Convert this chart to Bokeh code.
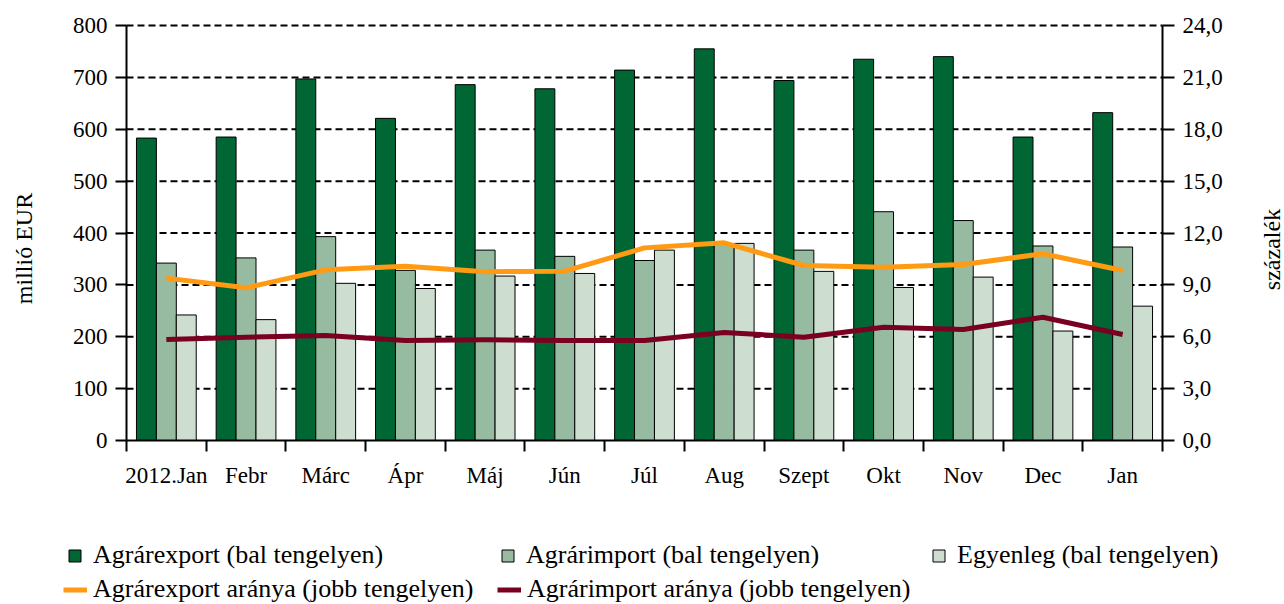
import math
from bokeh.plotting import figure
from bokeh.models import (Range1d, LinearAxis, FixedTicker, Legend, LegendItem,
                          ColumnDataSource, Label)
from bokeh.embed import file_html
from bokeh.resources import INLINE

months = ["2012.Jan", "Febr", "Márc", "Ápr", "Máj", "Jún", "Júl", "Aug",
          "Szept", "Okt", "Nov", "Dec", "Jan"]
export_vals = [583, 585, 697, 621, 686, 678, 714, 755, 694, 735, 740, 585, 632]
import_vals = [342, 352, 393, 328, 367, 355, 347, 378, 367, 441, 424, 375, 373]
balance_vals = [242, 233, 303, 293, 317, 322, 367, 380, 326, 295, 315, 211, 259]
export_share = [9.39, 8.83, 9.87, 10.08, 9.76, 9.79, 11.14, 11.43, 10.12, 10.02, 10.18, 10.80, 9.83]
import_share = [5.84, 5.97, 6.07, 5.78, 5.82, 5.78, 5.78, 6.25, 5.97, 6.55, 6.42, 7.13, 6.13]
left_ticks = [0, 100, 200, 300, 400, 500, 600, 700, 800]
right_ticks = [0, 3, 6, 9, 12, 15, 18, 21, 24]

FONT = "Liberation Serif"
C_EXP = "#006633"
C_IMP = "#97BBA1"
C_BAL = "#CDDDCF"
C_ORANGE = "#FF9A12"
C_RED = "#7A0022"

# canvas and plot-area geometry (pixels)
W, H = 1284, 604
PL, PR, PT, PB = 126, 1162, 25, 440

n = len(months)
YMAX = left_ticks[-1]
RMAX = right_ticks[-1]
xs = (PR - PL) / n
ys = (PB - PT) / YMAX
rs = (PB - PT) / RMAX

centers = [i + 0.5 for i in range(n)]
bw = 0.25

src = ColumnDataSource(dict(
    xc=centers,
    xe=[c - bw for c in centers],
    xb=[c + bw for c in centers],
    exp=export_vals, imp=import_vals, bal=balance_vals,
    es=export_share, ims=import_share,
))

grid_src = ColumnDataSource(dict(
    y=left_ticks[1:],
    x0=[0] * (len(left_ticks) - 1),
    x1=[n] * (len(left_ticks) - 1),
))

p = figure(width=W, height=H, output_backend="svg", toolbar_location=None,
           x_range=Range1d(-PL / xs, n + (W - PR) / xs),
           y_range=Range1d(-(H - PB) / ys, YMAX + PT / ys),
           x_axis_location=None, y_axis_location=None,
           min_border_left=0, min_border_right=0, min_border_top=0,
           min_border_bottom=0)
p.outline_line_color = None
p.extra_y_ranges = {"right": Range1d(-(H - PB) / rs, RMAX + PT / rs)}
p.xgrid.visible = False
p.ygrid.visible = False

# dashed horizontal grid lines between the two axes
p.segment(x0="x0", x1="x1", y0="y", y1="y", source=grid_src,
          line_color="black", line_dash="7 4", line_width=2)


def style_axis(ax, tick_out):
    ax.major_tick_out = tick_out
    ax.major_tick_in = 0
    ax.major_tick_line_width = 2
    ax.major_tick_line_color = "black"
    ax.axis_line_width = 2
    ax.axis_line_color = "black"
    ax.major_label_text_font = FONT
    ax.major_label_text_font_size = "23px"
    ax.major_label_text_color = "black"


# x axis
xa = LinearAxis(fixed_location=0, bounds=(0, n),
                ticker=FixedTicker(ticks=centers, minor_ticks=list(range(n + 1))))
style_axis(xa, 0)
xa.major_label_overrides = {c: m for c, m in zip(centers, months)}
xa.minor_tick_out = 11
xa.minor_tick_in = 0
xa.minor_tick_line_color = "black"
xa.minor_tick_line_width = 2
xa.major_label_standoff = 11
p.add_layout(xa, "below")

# left axis
ya = LinearAxis(fixed_location=0, bounds=(0, YMAX),
                ticker=FixedTicker(ticks=left_ticks, minor_ticks=[]))
style_axis(ya, 11)
ya.major_label_standoff = 8
p.add_layout(ya, "left")

# right axis
ra = LinearAxis(y_range_name="right", fixed_location=n, bounds=(0, RMAX),
                ticker=FixedTicker(ticks=right_ticks, minor_ticks=[]))
style_axis(ra, 12)
ra.major_label_overrides = {t: f"{t},0" for t in right_ticks}
ra.major_label_standoff = 8
p.add_layout(ra, "right")

# axis titles
for txt, sx, sy in [("millió EUR", 23, H - 248), ("százalék", 1271, H - 249)]:
    p.add_layout(Label(x=sx, y=sy, x_units="screen", y_units="screen",
                       text=txt, angle=math.pi / 2, text_align="center",
                       text_baseline="middle", text_font=FONT,
                       text_font_size="24px", text_color="black"))

# bars
r_exp = p.vbar(x="xe", width=bw, top="exp", bottom=0, source=src,
               fill_color=C_EXP, line_color="black", line_width=1)
r_imp = p.vbar(x="xc", width=bw, top="imp", bottom=0, source=src,
               fill_color=C_IMP, line_color="black", line_width=1)
r_bal = p.vbar(x="xb", width=bw, top="bal", bottom=0, source=src,
               fill_color=C_BAL, line_color="black", line_width=1)

# lines
r_es = p.line(x="xc", y="es", source=src, y_range_name="right",
              line_color=C_ORANGE, line_width=5, line_join="round")
r_is = p.line(x="xc", y="ims", source=src, y_range_name="right",
              line_color=C_RED, line_width=5, line_join="round")


def add_leg(label, renderer, vx, vy, gw, gh, standoff):
    leg = Legend(items=[LegendItem(label=label, renderers=[renderer])],
                 location=(vx, vy), orientation="horizontal",
                 glyph_width=gw, glyph_height=gh, label_standoff=standoff,
                 padding=0, margin=0, spacing=0,
                 border_line_color=None, background_fill_alpha=0,
                 label_text_font=FONT, label_text_font_size="26px",
                 label_text_color="black", label_height=16)
    p.add_layout(leg, "center")


add_leg("Agrárexport (bal tengelyen)", r_exp, 67, 34, 15, 15, 11)
add_leg("Agrárimport (bal tengelyen)", r_imp, 500, 34, 15, 15, 11)
add_leg("Egyenleg (bal tengelyen)", r_bal, 931, 34, 15, 15, 11)
add_leg("Agrárexport aránya (jobb tengelyen)", r_es, 63, 0, 24, 15, 6)
add_leg("Agrárimport aránya (jobb tengelyen)", r_is, 497, 0, 24, 15, 6)

open("out.html", "w").write(file_html(p, INLINE))
